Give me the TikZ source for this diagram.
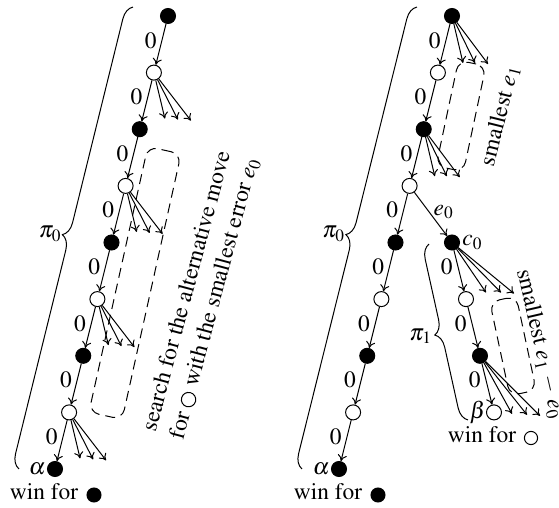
\documentclass[tikz,border=0pt]{standalone}
\usepackage[T1]{fontenc}
\usepackage{mathptmx}
\usetikzlibrary{decorations.pathreplacing,arrows.meta}
\newcommand{\whitedisc}{\tikz[baseline=-0.5ex]\node[circle,draw,line width=0.5pt,minimum size=7.2pt,inner sep=0pt]{};}
\begin{document}
\begin{tikzpicture}[x=0.5pt,y=-0.5pt,line width=0.5pt,
  >={To[length=3.2pt,width=4.6pt]},
  every node/.style={font=\fontsize{11.7}{14.3}\selectfont},
  bnode/.style={circle,draw,fill=black,minimum size=7.5pt,inner sep=0pt},
  wnode/.style={circle,draw,fill=white,minimum size=7.5pt,inner sep=0pt},
  bdisc/.style={circle,draw,fill=black,minimum size=7pt,inner sep=0pt},
  wdisc/.style={circle,draw,fill=white,minimum size=6.6pt,inner sep=0pt},
  zero/.style={left,inner sep=2.5pt,pos=0.4},
  dbox/.style={draw,dash pattern=on 5pt off 3pt,rounded corners=5pt,inner sep=0pt},
  pbrace/.style={decorate,decoration={brace,amplitude=7pt}},
  win/.style={anchor=north,inner sep=0pt}]
\useasboundingbox (0,0) rectangle (559,508);

% ---------- left: the principal variation pi_0 ----------
\node[bnode] (a0) at (168,16) {};
\node[wnode] (a1) at (153.9,72.6) {};
\node[bnode] (a2) at (139.75,129.2) {};
\node[wnode] (a3) at (125.6,185.9) {};
\node[bnode] (a4) at (111.5,242.5) {};
\node[wnode] (a5) at (97.4,299.1) {};
\node[bnode] (a6) at (83.25,355.8) {};
\node[wnode] (a7) at (69.1,412.4) {};
\node[bnode] (a8) at (55,469) {};

\node[dbox,minimum width=17pt,minimum height=136pt,rotate=-12.5] (lbox) at (135,283) {};

\foreach \u/\v in {a0/a1,a1/a2,a2/a3,a3/a4,a4/a5,a5/a6,a6/a7,a7/a8}
  \draw[->] (\u) -- (\v) node[zero] {0};

\foreach \n in {a1,a3,a5,a7}{
  \path (\n) ++(11,46) coordinate (\n-1) ++(13,1) coordinate (\n-2) ++(13,1) coordinate (\n-3);
  \foreach \k in {1,2,3} \draw[->] (\n) -- (\n-\k);
}

\node[left,inner sep=0.5pt] (alphaL) at (a8.west) {$\alpha$};
\node[win] (winL) at (44,483) {win for};
\node[bdisc] (winLd) at (94,495) {};

\coordinate (lb1) at (19,469);
\coordinate (lb2) at (133,7);
\draw[pbrace] (lb1) -- (lb2) node[midway,anchor=east,inner sep=0pt,xshift=-7pt,yshift=2pt] {$\pi_0$};

\node[rotate=75,align=center] (ltext) at (201,295)
  {search for the alternative move\\for \whitedisc{} with the smallest error $e_0$};

% ---------- right: pi_0 with the deviation pi_1 ----------
\node[bnode] (b0) at (452,16) {};
\node[wnode] (b1) at (437.9,72.6) {};
\node[bnode] (b2) at (423.75,129.2) {};
\node[wnode] (b3) at (409.6,185.9) {};
\node[bnode] (b4) at (395.5,242.5) {};
\node[wnode] (b5) at (381.4,299.1) {};
\node[bnode] (b6) at (367.25,355.8) {};
\node[wnode] (b7) at (353.1,412.4) {};
\node[bnode] (b8) at (339,469) {};

\node[bnode] (c0) at (452,242.5) {};
\node[wnode] (p1) at (466,299.1) {};
\node[bnode] (p2) at (480,355.8) {};
\node[wnode] (p3) at (494,412.4) {};

\node[dbox,minimum width=14pt,minimum height=54pt,rotate=-12] (rbox1) at (461,116) {};
\node[dbox,minimum width=13.5pt,minimum height=48pt,rotate=12] (rbox2) at (513,346) {};

\foreach \u/\v in {b0/b1,b1/b2,b2/b3,b3/b4,b4/b5,b5/b6,b6/b7,b7/b8,c0/p1,p1/p2,p2/p3}
  \draw[->] (\u) -- (\v) node[zero] {0};
\draw[->] (b3) -- (c0) node[pos=0.45,right,inner sep=2pt] {$e_0$};

\foreach \n in {b0,b2}{
  \path (\n) ++(11,47) coordinate (\n-1) ++(12,0) coordinate (\n-2) ++(13,1) coordinate (\n-3);
  \foreach \k in {1,2,3} \draw[->] (\n) -- (\n-\k);
}
\path (c0) ++(34,50) coordinate (c0-1) ++(15,0) coordinate (c0-2) ++(13,1) coordinate (c0-3);
\path (p2) ++(32,58) coordinate (p2-1) ++(15,1) coordinate (p2-2) ++(13,1) coordinate (p2-3);
\foreach \n in {c0,p2}
  \foreach \k in {1,2,3} \draw[->] (\n) -- (\n-\k);

\node[right,inner sep=1pt] (clab) at (c0.east) {$c_0$};
\node[left,inner sep=0.5pt] (alphaR) at (b8.west) {$\alpha$};
\node[left,inner sep=0pt] (betaR) at (p3.west) {$\beta$};
\node[win] (winR1) at (328,483) {win for};
\node[bdisc] (winR1d) at (378,495) {};
\node[win] (winR2) at (482,426) {win for};
\node[wdisc] (winR2d) at (531,438) {};

\coordinate (rb1) at (302,469);
\coordinate (rb2) at (417,7);
\draw[pbrace] (rb1) -- (rb2) node[midway,anchor=east,inner sep=0pt,xshift=-7pt,yshift=2pt] {$\pi_0$};
\coordinate (sb1) at (468,420);
\coordinate (sb2) at (429,244);
\draw[pbrace] (sb1) -- (sb2) node[midway,anchor=east,inner sep=0pt,xshift=-8pt,yshift=-2pt] {$\pi_1$};

\node[rotate=76] (rtext1) at (500,116) {smallest $e_1$};
\node[rotate=-77] (rtext2) at (540,344) {smallest $e_1\,-\,e_0$};
\end{tikzpicture}
\end{document}
